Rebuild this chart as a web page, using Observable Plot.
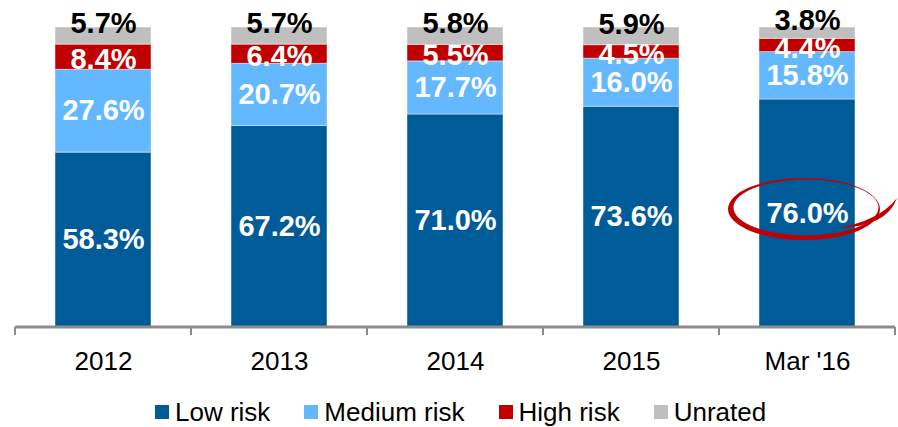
<!DOCTYPE html>
<html><head><meta charset="utf-8">
<script src="https://cdn.jsdelivr.net/npm/d3@7"></script>
<script src="https://cdn.jsdelivr.net/npm/@observablehq/plot@0.6"></script>
<style>
body{margin:0;background:#fff;font-family:"Liberation Sans",Arial,sans-serif;}
#legend{display:flex;gap:34px;padding-left:155px;padding-top:12px;line-height:30px;height:30px;font-size:26px;color:#000;}
.item{display:flex;align-items:center;white-space:nowrap}
.sw{width:14px;height:14px;margin-right:6px;display:inline-block}
</style></head><body><div id="chart"></div><div id="legend"></div>
<script>
const periods = ["2012", "2013", "2014", "2015", "Mar '16"];
const series = ["Low risk", "Medium risk", "High risk", "Unrated"];
const lowRisk = [58.3, 67.2, 71.0, 73.6, 76.0];
const mediumRisk = [27.6, 20.7, 17.7, 16.0, 15.8];
const highRisk = [8.4, 6.4, 5.5, 4.5, 4.4];
const unrated = [5.7, 5.7, 5.8, 5.9, 3.8];
const colors = ["#005C99", "#63B8FF", "#C00000", "#BFBFBF"];
const highlight = "Mar '16";

const values = [lowRisk, mediumRisk, highRisk, unrated];
const data = [];
periods.forEach((p, i) => {
  let base = 0;
  series.forEach((s, j) => {
    const v = values[j][i];
    data.push({period: p, series: s, value: v, y1: base, y2: base + v, mid: base + v / 2});
    base += v;
  });
});

const axisMark = (index, scales, values, dims) => {
  const g = d3.create("svg:g");
  const y0 = scales.y(0);
  const left = dims.marginLeft, right = dims.width - dims.marginRight;
  const step = (right - left) / periods.length;
  g.append("line").attr("x1", left).attr("x2", right).attr("y1", y0).attr("y2", y0)
    .attr("stroke", "#8c8c8c").attr("stroke-width", 3);
  for (let i = 0; i <= periods.length; i++) {
    const xe = left + i * step;
    g.append("line").attr("x1", xe).attr("x2", xe).attr("y1", y0).attr("y2", y0 + 8)
      .attr("stroke", "#8c8c8c").attr("stroke-width", 2);
  }
  return g.node();
};

const ellipseMark = (index, scales, values, dims) => {
  const left = dims.marginLeft, right = dims.width - dims.marginRight;
  const step = (right - left) / periods.length;
  const i = periods.indexOf(highlight);
  const row = data.find(d => d.period === highlight && d.series === series[0]);
  const lx = left + step * (i + 0.5);
  const ly = scales.y(row.mid);
  const cx = lx - 3, cy = ly - 4;
  const ell = (x, y, rx, ry) => `M${x - rx},${y} A${rx},${ry} 0 1,0 ${x + rx},${y} A${rx},${ry} 0 1,0 ${x - rx},${y} Z`;
  const g = d3.create("svg:g");
  g.append("path")
    .attr("d", ell(cx, cy, 76, 31) + ell(cx + 2, cy - 1.5, 72.5, 28))
    .attr("fill", "#C00000").attr("fill-rule", "evenodd");
  g.append("path")
    .attr("d", `M${lx + 30},${ly + 15} Q${lx + 72},${ly + 8} ${lx + 90},${ly - 15} Q${lx + 80},${ly + 14} ${lx + 30},${ly + 15} Z`)
    .attr("fill", "#C00000");
  return g.node();
};

const chart = Plot.plot({
  width: 898,
  height: 385,
  marginTop: 27,
  marginBottom: 58,
  marginLeft: 15,
  marginRight: 3,
  style: {fontFamily: "'Liberation Sans', Arial, sans-serif", fontSize: "26px", color: "#000", background: "#fff"},
  x: {domain: periods, padding: 0, tickSize: 0, tickPadding: 24, label: null},
  y: {domain: [0, 100], axis: null},
  color: {domain: series, range: colors},
  marks: [
    Plot.rectY(data, {x: "period", y1: "y1", y2: "y2", fill: "series", insetLeft: 40, insetRight: 40,
      stroke: "white", strokeOpacity: 0.45, strokeWidth: 1}),
    axisMark,
    Plot.text(data.filter(d => d.series === "Low risk" || d.series === "Medium risk"), {x: "period", y: "mid", text: d => d.value.toFixed(1) + "%",
      fill: "white", fontSize: 29, fontWeight: "bold"}),
    Plot.text(data.filter(d => d.series === "High risk"), {x: "period", y: "mid", text: d => d.value.toFixed(1) + "%",
      fill: "white", fontSize: 29, fontWeight: "bold", dy: 3}),
    Plot.text(data.filter(d => d.series === "Unrated"), {x: "period", y: "mid", text: d => d.value.toFixed(1) + "%",
      fill: "black", fontSize: 29, fontWeight: "bold", dy: -12}),
    ellipseMark
  ]
});
document.getElementById("chart").appendChild(chart);

const legend = document.getElementById("legend");
series.forEach((s, j) => {
  const it = document.createElement("span");
  it.className = "item";
  const sw = document.createElement("span");
  sw.className = "sw";
  sw.style.background = colors[j];
  it.appendChild(sw);
  it.appendChild(document.createTextNode(s));
  legend.appendChild(it);
});
</script></body></html>
